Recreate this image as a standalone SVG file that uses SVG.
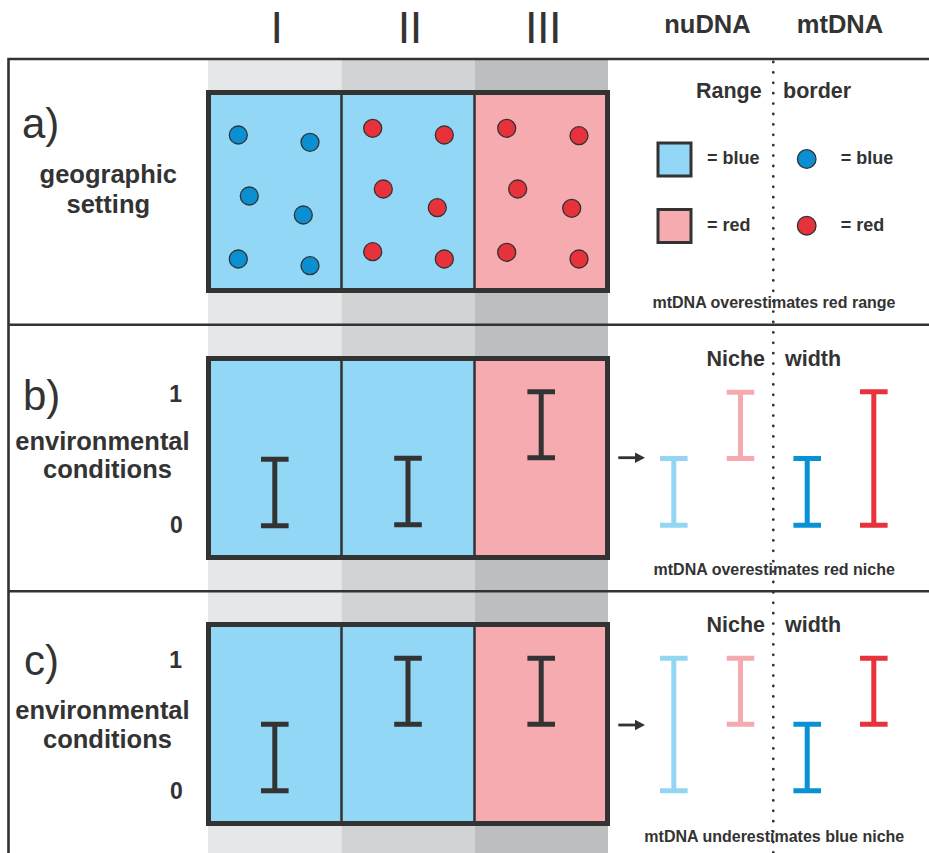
<svg xmlns="http://www.w3.org/2000/svg" width="929" height="853" viewBox="0 0 929 853">
<style>
 .t{font-family:"Liberation Sans",Arial,Helvetica,sans-serif;fill:#333}
 .b{font-weight:bold}
 .m{text-anchor:middle}
 .e{text-anchor:end}
 .ln{stroke:#333;stroke-width:2.6;fill:none}
 .box{fill:none;stroke:#333;stroke-width:5}
 .dv{stroke:#333;stroke-width:2.5}
 .fb{fill:#92d7f5}
 .fp{fill:#f5abb0}
 .db{fill:#0a8fd3;stroke:#333;stroke-width:1.3}
 .dr{fill:#e8323b;stroke:#333;stroke-width:1.3}
 .bar{fill:none;stroke-width:5}
 .k{stroke:#333}
 .lb{stroke:#93d6f4}
 .pk{stroke:#f5aab0}
 .bl{stroke:#0a90d4}
 .rd{stroke:#e8333c}
 .lab{font-size:25.5px}
 .num{font-size:23px}
 .pl{font-size:42px}
 .hd{font-size:21.5px}
 .lg{font-size:18px}
 .nt{font-size:16px}
</style>
<rect width="929" height="853" fill="#fff"/>
<g id="columns">
 <rect x="208" y="60" width="133.5" height="793" fill="#e6e7e8"/>
 <rect x="341.5" y="60" width="133.5" height="793" fill="#d1d3d4"/>
 <rect x="475" y="60" width="133" height="793" fill="#bcbec0"/>
</g>
<g id="frame">
 <path class="ln" d="M8.5 853V59H929M8.5 324.7H929M8.5 591.3H929"/>
 <line x1="773.3" y1="62" x2="773.3" y2="853" stroke="#333" stroke-width="2.8" stroke-dasharray="0 10.4" stroke-linecap="round"/>
</g>
<g id="header">
 <text class="t m" x="276.7" y="43" font-size="45">I</text>
 <text class="t m" x="409.7" y="43" font-size="45" letter-spacing="-0.5">II</text>
 <text class="t m" x="543" y="43" font-size="45" letter-spacing="-0.5">III</text>
 <text class="t b m" x="707.5" y="33.3" font-size="25.5">nuDNA</text>
 <text class="t b m" x="840" y="33.3" font-size="25.5">mtDNA</text>
</g>
<g id="panel-a">
 <text class="t pl" x="22" y="138">a)</text>
 <text class="t b m" x="108.3" y="183.3" font-size="25.5">geographic</text>
 <text class="t b m" x="108.3" y="213.3" font-size="25.5">setting</text>
 <rect class="fb" x="208.5" y="92.5" width="266" height="198"/>
 <rect class="fp" x="474.5" y="92.5" width="133" height="198"/>
 <path class="dv" d="M341.5 92.5V290.5M474.5 92.5V290.5"/>
 <rect class="box" x="208.5" y="92.5" width="399" height="198"/>
 <g id="dots-a">
  <circle class="db" cx="238.3" cy="135" r="9"/>
  <circle class="db" cx="310" cy="142.3" r="9"/>
  <circle class="db" cx="249.3" cy="196" r="9"/>
  <circle class="db" cx="303.3" cy="215" r="9"/>
  <circle class="db" cx="238.3" cy="259" r="9"/>
  <circle class="db" cx="310" cy="265.7" r="9"/>
  <circle class="dr" cx="372.7" cy="128.3" r="9"/>
  <circle class="dr" cx="444.3" cy="135" r="9"/>
  <circle class="dr" cx="383.3" cy="189" r="9"/>
  <circle class="dr" cx="437.3" cy="207.7" r="9"/>
  <circle class="dr" cx="372.7" cy="251.7" r="9"/>
  <circle class="dr" cx="444.3" cy="259" r="9"/>
  <circle class="dr" cx="506.7" cy="128.3" r="9"/>
  <circle class="dr" cx="579" cy="135.7" r="9"/>
  <circle class="dr" cx="517.7" cy="189" r="9"/>
  <circle class="dr" cx="571.7" cy="208.3" r="9"/>
  <circle class="dr" cx="506.7" cy="252.3" r="9"/>
  <circle class="dr" cx="579" cy="259" r="9"/>
 </g>
 <g id="legend-a">
  <text class="t b hd e" x="761.7" y="98.3">Range</text>
  <text class="t b hd" x="783" y="98.3">border</text>
  <rect class="fb" x="658" y="143" width="33" height="33" stroke="#333" stroke-width="3"/>
  <rect class="fp" x="658" y="209.5" width="33" height="33" stroke="#333" stroke-width="3"/>
  <text class="t b lg" x="707" y="164">= blue</text>
  <text class="t b lg" x="707" y="230.7">= red</text>
  <circle cx="806.7" cy="159" r="9.3" fill="#0a8fd3" stroke="#333" stroke-width="1.3"/>
  <circle cx="806.7" cy="225.7" r="9.3" fill="#e8323b" stroke="#333" stroke-width="1.3"/>
  <text class="t b lg" x="840.7" y="164">= blue</text>
  <text class="t b lg" x="840.7" y="230.7">= red</text>
  <text class="t b nt m" x="774" y="308.3">mtDNA overestimates red range</text>
 </g>
</g>
<g id="panel-b">
 <text class="t pl" x="23" y="410">b)</text>
 <text class="t b num e" x="182" y="401.7">1</text>
 <text class="t b num e" x="182.7" y="533.3">0</text>
 <text class="t b lab m" x="102.5" y="450">environmental</text>
 <text class="t b lab m" x="107.5" y="478.3">conditions</text>
 <rect class="fb" x="208.5" y="358.5" width="266" height="199"/>
 <rect class="fp" x="474.5" y="358.5" width="133" height="199"/>
 <path class="dv" d="M341.5 358.5V557.5M474.5 358.5V557.5"/>
 <rect class="box" x="208.5" y="358.5" width="399" height="199"/>
 <path class="bar k" d="M261 459.2H288.6M274.8 459.2V525.8M261 525.8H288.6"/>
 <path class="bar k" d="M394.2 458.2H421.8M408 458.2V524.8M394.2 524.8H421.8"/>
 <path class="bar k" d="M527.4 391.7H555M541.2 391.7V457.8M527.4 457.8H555"/>
 <g id="legend-b">
  <text class="t b hd e" x="765" y="366">Niche</text>
  <text class="t b hd" x="785" y="366">width</text>
  <path class="bar lb" d="M660 458.5H687.6M673.8 458.5V525.2M660 525.2H687.6"/>
  <path class="bar pk" d="M726.7 392.2H754.3M740.5 392.2V458.5M726.7 458.5H754.3"/>
  <path class="bar bl" d="M793.4 458.5H821M807.2 458.5V525.2M793.4 525.2H821"/>
  <path class="bar rd" d="M860 391.7H887.6M873.8 391.7V525.2M860 525.2H887.6"/>
  <text class="t b nt m" x="774.2" y="575">mtDNA overestimates red niche</text>
 </g>
</g>
<g id="panel-c">
 <text class="t pl" x="24" y="675">c)</text>
 <text class="t b num e" x="182" y="668">1</text>
 <text class="t b num e" x="182.7" y="799.3">0</text>
 <text class="t b lab m" x="102.5" y="719">environmental</text>
 <text class="t b lab m" x="107.5" y="747.5">conditions</text>
 <rect class="fb" x="208.5" y="624.5" width="266" height="199"/>
 <rect class="fp" x="474.5" y="624.5" width="133" height="199"/>
 <path class="dv" d="M341.5 624.5V823.5M474.5 624.5V823.5"/>
 <rect class="box" x="208.5" y="624.5" width="399" height="199"/>
 <path class="bar k" d="M261 724.2H288.6M274.8 724.2V790.8M261 790.8H288.6"/>
 <path class="bar k" d="M394.2 658.2H421.8M408 658.2V724.2M394.2 724.2H421.8"/>
 <path class="bar k" d="M527.4 658.2H555M541.2 658.2V724.2M527.4 724.2H555"/>
 <g id="legend-c">
  <text class="t b hd e" x="765" y="631.7">Niche</text>
  <text class="t b hd" x="785" y="631.7">width</text>
  <path class="bar lb" d="M660 658.2H687.6M673.8 658.2V790.8M660 790.8H687.6"/>
  <path class="bar pk" d="M726.7 658.2H754.3M740.5 658.2V724.2M726.7 724.2H754.3"/>
  <path class="bar bl" d="M793.4 724.2H821M807.2 724.2V790.8M793.4 790.8H821"/>
  <path class="bar rd" d="M860 658.2H887.6M873.8 658.2V724.2M860 724.2H887.6"/>
  <text class="t b nt m" x="774.3" y="841.7">mtDNA underestimates blue niche</text>
 </g>
</g>
<g id="connectors">
 <path d="M618.3 457.7H637" stroke="#333" stroke-width="2.8"/>
 <path d="M645 457.7L635 452.5V462.9Z" fill="#333"/>
 <path d="M618.3 725H637" stroke="#333" stroke-width="2.8"/>
 <path d="M645 725L635 719.8V730.2Z" fill="#333"/>
</g>
</svg>
